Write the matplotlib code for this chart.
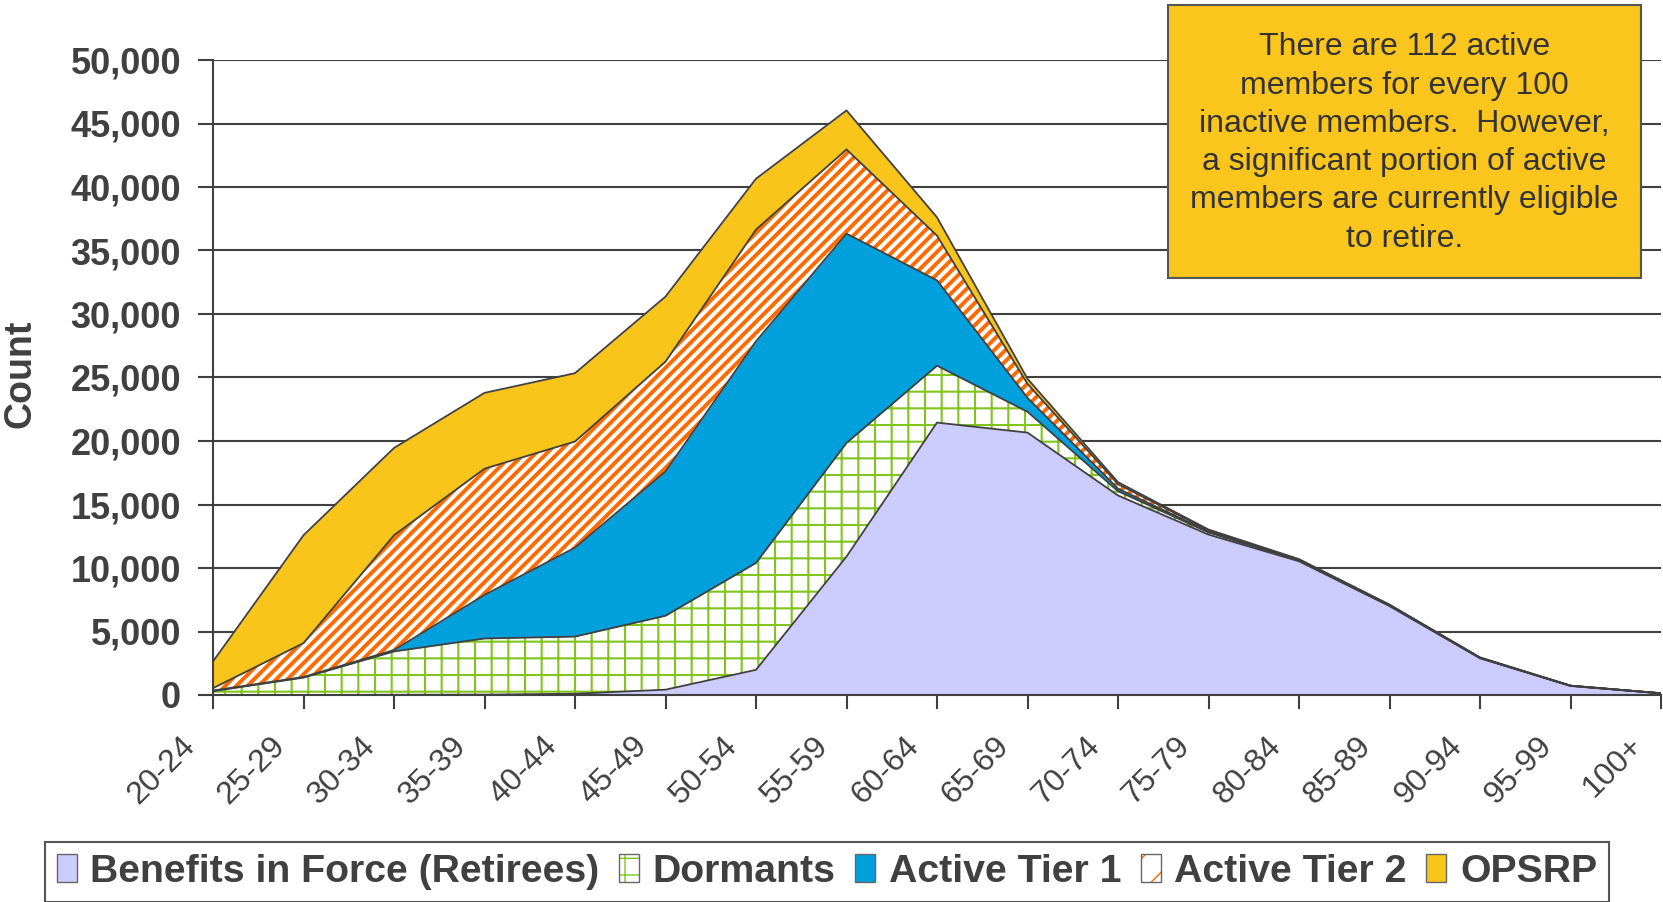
import numpy as np
import matplotlib
matplotlib.use('Agg')
import matplotlib.pyplot as plt
from matplotlib.patches import Patch, Rectangle
from matplotlib.ticker import FuncFormatter
from matplotlib.legend_handler import HandlerTuple
import matplotlib.transforms as mtransforms

plt.rcParams['font.family'] = 'Liberation Sans'

# age groups and member counts per layer (stacked)
ages = ['20-24', '25-29', '30-34', '35-39', '40-44', '45-49', '50-54', '55-59', '60-64',
        '65-69', '70-74', '75-79', '80-84', '85-89', '90-94', '95-99', '100+']
retirees = [0, 0, 20, 30, 100, 420, 1980, 10900, 21450, 20660, 15710, 12630, 10530, 7000, 2890, 710, 130]
dormants = [300, 1370, 3410, 4420, 4500, 5820, 8420, 8950, 4480, 1640, 340, 170, 70, 50, 30, 15, 5]
tier1 = [50, 50, 110, 3430, 7000, 11360, 17450, 16480, 6720, 1100, 200, 80, 20, 20, 10, 5, 2]
tier2 = [190, 2665, 9040, 9940, 8360, 8650, 8800, 6630, 3520, 1100, 350, 100, 30, 20, 10, 5, 1]
opsrp = [2100, 8495, 6870, 5970, 5380, 5120, 4000, 3070, 1440, 400, 160, 50, 50, 30, 20, 5, 2]

labels = ['Benefits in Force (Retirees)', 'Dormants', 'Active Tier 1', 'Active Tier 2', 'OPSRP']
series = [retirees, dormants, tier1, tier2, opsrp]
faces = ['#CCCCFF', 'white', '#00A0DC', 'white', '#F9C51A']
hatch_cols = ['#CCCCFF', '#80C41C', '#00A0DC', '#FF6A00', '#F9C51A']
hatches = [None, '+', None, '///', None]
hatch_lw = [1.0, 1.5, 1.0, 2.8, 1.0]

text_col = '#404040'
line_col = '#404040'

fig = plt.figure(figsize=(16.63, 9.02), dpi=100)
ax = fig.add_axes([213 / 1663, 1 - 695 / 902, (1661 - 213) / 1663, (695 - 60) / 902])

x = np.arange(len(ages))
bottom = np.zeros(len(ages))
for vals, fc, hc, h, hlw in zip(series, faces, hatch_cols, hatches, hatch_lw):
    top = bottom + np.array(vals)
    with plt.rc_context({'hatch.linewidth': hlw}):
        ax.fill_between(x, bottom, top, facecolor=fc, edgecolor=hc, hatch=h,
                        linewidth=0, zorder=2)
    ax.plot(x, top, color=line_col, lw=1.3, zorder=3)
    bottom = top

ax.set_xlim(0, len(ages) - 1)
ax.set_ylim(0, 50000)
ax.set_yticks(np.arange(0, 50001, 5000))
ax.yaxis.set_major_formatter(FuncFormatter(lambda v, p: f'{int(v):,}'))
ax.set_xticks(x)
ax.set_xticklabels(ages)

ax.grid(axis='y', color=line_col, lw=1.5)
ax.set_axisbelow(True)
for s in ['top', 'right']:
    ax.spines[s].set_visible(False)
for s in ['left', 'bottom']:
    ax.spines[s].set_color(line_col)
    ax.spines[s].set_linewidth(1.5)
ax.spines['bottom'].set_zorder(4)

ax.tick_params(axis='y', length=11, width=1.5, color=line_col, labelsize=26,
               labelcolor=text_col, pad=12)
for t in ax.get_yticklabels():
    t.set_fontweight('bold')
ax.tick_params(axis='x', length=10, width=1.5, color=line_col, labelsize=23,
               labelcolor=text_col, pad=16)
offset = mtransforms.ScaledTranslation(-12 / 100, 0, fig.dpi_scale_trans)
for t in ax.get_xticklabels():
    t.set_rotation(45)
    t.set_ha('right')
    t.set_va('top')
    t.set_transform(t.get_transform() + offset)

fig.text(21 / 1663, 1 - 374 / 902, 'Count', rotation=90, ha='center', va='center',
         fontsize=27, fontweight='bold', color=text_col)

# note box
fig.add_artist(Rectangle((1168 / 1663, 1 - 278 / 902), 473 / 1663, 273 / 902,
                         transform=fig.transFigure, facecolor='#FAC51C',
                         edgecolor='#555555', lw=1.5, zorder=5))
note = ('There are 112 active\nmembers for every 100\ninactive members.  However,\n'
        'a significant portion of active\nmembers are currently eligible\nto retire.')
fig.text(1404.5 / 1663, 1 - 143 / 902, note, ha='center', va='center',
         multialignment='center', fontsize=23, color='#333333', linespacing=1.36,
         zorder=6)

# legend handles: fill/hatch with a thin grey border on top
handles = []
for fc, hc, h, hlw in zip(faces, hatch_cols, hatches, hatch_lw):
    hh = None if h is None else h.replace('///', '/')
    with plt.rc_context({'hatch.linewidth': hlw}):
        fill = Patch(facecolor=fc, edgecolor=hc, hatch=hh, lw=0)
    border = Patch(facecolor='none', edgecolor='#666666', lw=1)
    handles.append((fill, border))
leg = fig.legend(handles, labels, loc='center', bbox_to_anchor=(827 / 1663, 1 - 872 / 902),
                 ncol=5, fancybox=False, framealpha=1, edgecolor='#555555',
                 prop={'size': 28.3, 'weight': 'bold'}, handlelength=0.5,
                 handleheight=0.7, handletextpad=0.35, columnspacing=0.5,
                 borderpad=0.3, handler_map={tuple: HandlerTuple(ndivide=1, pad=0)})
leg.get_frame().set_linewidth(1.5)
for t in leg.get_texts():
    t.set_color(text_col)

fig.savefig('out.png', dpi=100)
